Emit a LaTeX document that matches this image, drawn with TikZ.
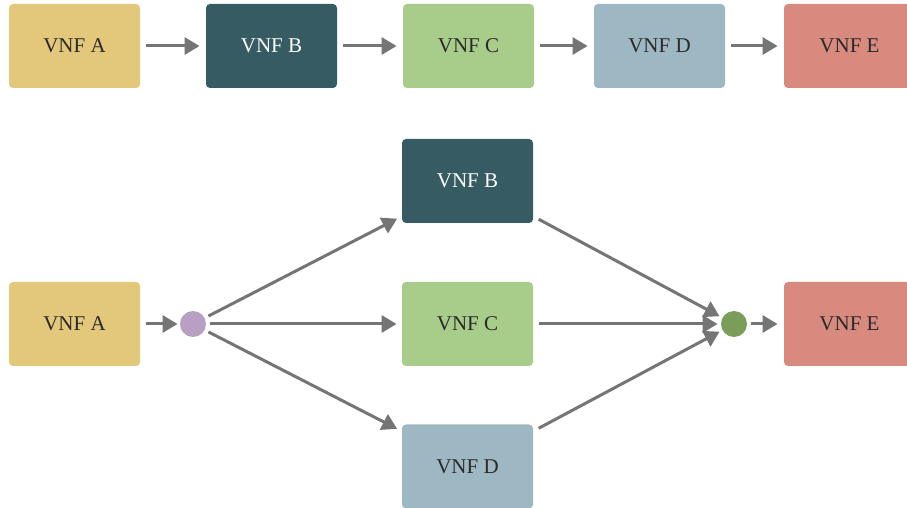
\documentclass[tikz,border=0pt]{standalone}
\usepackage{fontspec}
\setmainfont{Liberation Serif}
\usepackage{xcolor}
\usepackage{tikz}
\usetikzlibrary{positioning,calc,arrows.meta}

\definecolor{vnfa}{HTML}{E3C87B}
\definecolor{vnfb}{HTML}{365B63}
\definecolor{vnfc}{HTML}{A8CC8A}
\definecolor{vnfd}{HTML}{9DB8C2}
\definecolor{vnfe}{HTML}{D88A7E}
\definecolor{splitcol}{HTML}{B7A0C3}
\definecolor{mergecol}{HTML}{7A9E5A}
\definecolor{arrowgray}{HTML}{757575}
\definecolor{txtdark}{HTML}{2A2A2A}

\tikzset{
  vnf/.style={rectangle, rounded corners=2pt, minimum width=65.5pt, minimum height=42pt, inner sep=0pt, text=txtdark, font=\fontsize{10.5}{12}\selectfont},
  hub/.style={circle, minimum size=13pt, inner sep=0pt},
  flow/.style={draw=arrowgray, line width=1.5pt, -{Triangle[length=7.5pt,width=8.5pt]}}
}

\begin{document}
\begin{tikzpicture}[x=0.5pt,y=-0.5pt]
    \clip (0,0) rectangle (907,508);
    \fill[white] (0,0) rectangle (907,508);
    % serial chain
    \node[vnf, fill=vnfa] (topA) at (74.5,46) {VNF A};
    \node[vnf, fill=vnfb, text=white] (topB) at (271.5,46) {VNF B};
    \node[vnf, fill=vnfc] (topC) at (468.5,46) {VNF C};
    \node[vnf, fill=vnfd] (topD) at (659.5,46) {VNF D};
    \node[vnf, fill=vnfe] (topE) at (849.5,46) {VNF E};
    \draw[flow, shorten <=3pt, shorten >=3pt] (topA) -- (topB);
    \draw[flow, shorten <=3pt, shorten >=3pt] (topB) -- (topC);
    \draw[flow, shorten <=3pt, shorten >=3pt] (topC) -- (topD);
    \draw[flow, shorten <=3pt, shorten >=3pt] (topD) -- (topE);

    % parallel branches
    \node[vnf, fill=vnfa] (botA) at (74.5,324) {VNF A};
    \node[hub, fill=splitcol] (split) at (193,324) {};
    \node[vnf, fill=vnfb, text=white] (botB) at (467.5,181) {VNF B};
    \node[vnf, fill=vnfc] (botC) at (467.5,324) {VNF C};
    \node[vnf, fill=vnfd] (botD) at (467.5,466.5) {VNF D};
    \node[hub, fill=mergecol] (merge) at (734,324) {};
    \node[vnf, fill=vnfe] (botE) at (849.5,324) {VNF E};

    \draw[flow, shorten <=3pt, shorten >=1pt] (botA) -- (split);
    \draw[flow, shorten <=2pt, shorten >=2.5pt] (split) -- ([yshift=3.5pt]botB.south west);
    \draw[flow, shorten <=2pt, shorten >=2.5pt] (split) -- (botC);
    \draw[flow, shorten <=2pt, shorten >=2.5pt] (split) -- ([yshift=-3.5pt]botD.north west);
    \draw[flow, shorten <=3pt, shorten >=1.5pt] ([yshift=3.5pt]botB.south east) -- (merge);
    \draw[flow, shorten <=3pt, shorten >=1.5pt] (botC) -- (merge);
    \draw[flow, shorten <=3pt, shorten >=1.5pt] ([yshift=-3.5pt]botD.north east) -- (merge);
    \draw[flow, shorten <=2pt, shorten >=3pt] (merge) -- (botE);
\end{tikzpicture}
\end{document}
